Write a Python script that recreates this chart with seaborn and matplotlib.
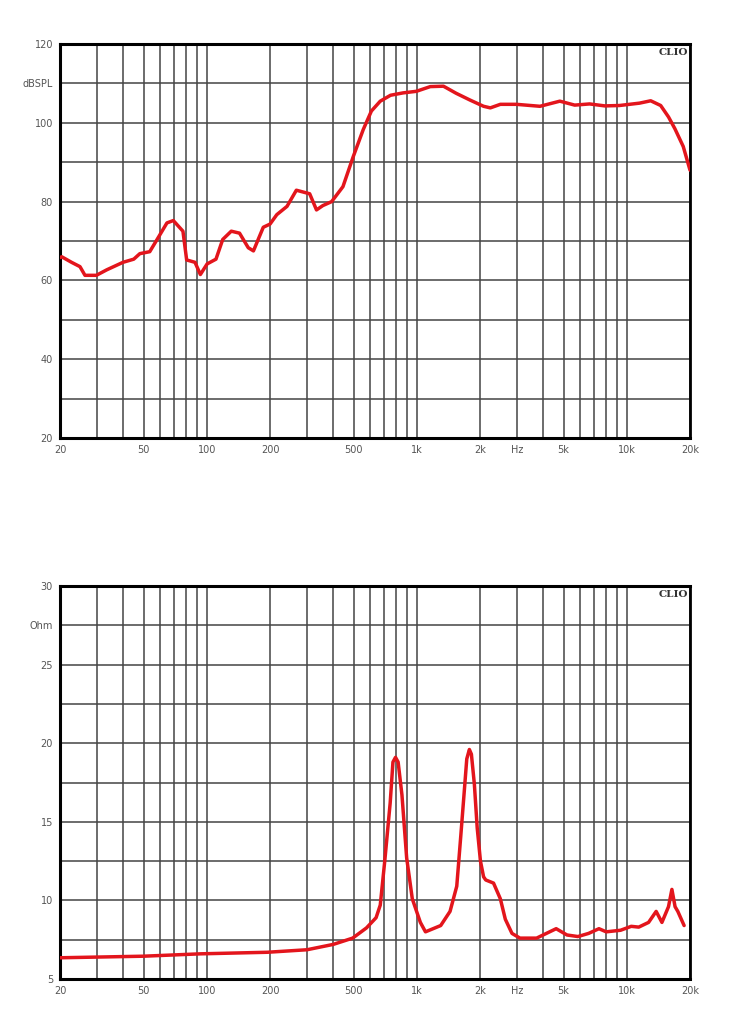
import numpy as np
import pandas as pd
import matplotlib
matplotlib.use("Agg")
import matplotlib.pyplot as plt
import seaborn as sns

# ---------------------------------------------------------------
# Data (frequency in Hz)
# ---------------------------------------------------------------
spl_freq = [20, 20.4, 22.7, 24.9, 26.3, 29.8, 33.4, 39.9, 44.9, 48.0, 53.5,
            58.6, 64.6, 69.3, 77.0, 80.2, 87.9, 93.2, 100.4, 110.6, 119.1,
            130.8, 143.2, 157.6, 166.8, 175.7, 185.8, 200, 215.5, 241, 267,
            309, 333, 357, 393, 445, 498, 556, 608, 670, 750, 860, 995,
            1160, 1340, 1540, 1790, 2080, 2240, 2500, 2980, 3860, 4800,
            5650, 6650, 7860, 9230, 11500, 13000, 14500, 15800, 16950,
            18570, 20000]
spl_db = [65.8, 66.0, 64.6, 63.5, 61.3, 61.3, 62.7, 64.6, 65.4, 66.8, 67.3,
          70.8, 74.6, 75.2, 72.5, 65.2, 64.6, 61.5, 64.2, 65.4, 70.4,
          72.5, 72.0, 68.3, 67.5, 70.4, 73.5, 74.3, 76.7, 78.8, 82.9,
          82.0, 77.9, 79.0, 80.0, 83.8, 91.4, 98.3, 103.0, 105.5, 107.0,
          107.6, 108.0, 109.2, 109.3, 107.5, 105.8, 104.2, 103.8, 104.7,
          104.7, 104.2, 105.5, 104.5, 104.8, 104.3, 104.4, 105.0, 105.6,
          104.4, 101.5, 98.5, 94.0, 88.0]

imp_freq = [20, 50, 93, 194, 300, 400, 495, 576, 640, 670, 705, 747, 770,
            792, 815, 850, 895, 952, 1040, 1100, 1300, 1440, 1550, 1620,
            1680, 1730, 1780, 1820, 1880, 1940, 2010, 2080, 2130, 2320,
            2500, 2640, 2840, 3100, 3720, 4610, 5190, 5850, 6580, 7370,
            7980, 9340, 10500, 11400, 12700, 13800, 14700, 15800, 16400,
            16980, 17500, 18750]
imp_ohm = [6.35, 6.45, 6.6, 6.7, 6.86, 7.2, 7.6, 8.25, 8.9, 9.7, 12.6, 16.2,
           18.8, 19.1, 18.8, 16.7, 12.7, 10.1, 8.6, 8.0, 8.4, 9.3, 10.9,
           14.1, 16.8, 19.0, 19.6, 19.3, 17.4, 14.6, 12.5, 11.5, 11.3,
           11.1, 10.1, 8.8, 7.9, 7.6, 7.6, 8.2, 7.8, 7.7, 7.9, 8.2, 8.0,
           8.1, 8.35, 8.3, 8.6, 9.3, 8.6, 9.6, 10.7, 9.6, 9.3, 8.4]

x_ticks = [20, 50, 100, 200, 500, 1000, 2000, 3000, 5000, 10000, 20000]
x_labels = ["20", "50", "100", "200", "500", "1k", "2k", "Hz", "5k", "10k", "20k"]

spl_ticks = [20, 40, 60, 80, 100, 110, 120]
spl_labels = ["20", "40", "60", "80", "100", "dBSPL", "120"]

imp_ticks = [5, 10, 15, 20, 25, 27.5, 30]
imp_labels = ["5", "10", "15", "20", "25", "Ohm", "30"]

RED = "#e3151c"
GRID = "#444444"


def style_axes(ax, ylim, ystep, yticks, ylabels):
    ax.set_xscale("log")
    ax.set_xlim(20, 20000)
    ax.set_ylim(*ylim)

    # vertical grid 20..90, 100..900, 1k..9k, 10k, 20k
    vgrid = [m * d for d in (10, 100, 1000) for m in range(1, 10) if m * d >= 20]
    vgrid += [10000, 20000]
    for v in vgrid:
        ax.axvline(v, color=GRID, lw=1.1, zorder=1)
    for h in np.arange(ylim[0], ylim[1] + 0.01, ystep):
        ax.axhline(h, color=GRID, lw=1.1, zorder=1)

    ax.set_xticks(x_ticks)
    ax.set_xticklabels(x_labels)
    ax.minorticks_off()
    ax.set_yticks(yticks)
    ax.set_yticklabels(ylabels)
    ax.tick_params(length=0, labelsize=7, labelcolor="#555555", pad=5)
    ax.set_xlabel("")
    ax.set_ylabel("")

    for side in ("left", "bottom", "top"):
        ax.spines[side].set_visible(True)
        ax.spines[side].set_color("black")
        ax.spines[side].set_linewidth(2.2)
    ax.spines["right"].set_visible(True)
    ax.spines["right"].set_color("black")
    ax.spines["right"].set_linewidth(2.0)
    ax.spines["right"].set_linestyle((0, (1, 1)))

    ax.text(0.997, 0.99, "CLIO", transform=ax.transAxes, ha="right", va="top",
            fontsize=7.5, fontweight="bold", family="DejaVu Serif", color="#333333",
            zorder=5)


sns.set_style("white")
plt.rcParams["font.family"] = ["DejaVu Sans"]

fig = plt.figure(figsize=(7.5, 10.29), dpi=100)
ax1 = fig.add_axes([0.08, 0.5743, 0.84, 0.3829])
ax2 = fig.add_axes([0.08, 0.0486, 0.84, 0.3819])

spl = pd.DataFrame({"freq": spl_freq, "db": spl_db})
imp = pd.DataFrame({"freq": imp_freq, "ohm": imp_ohm})

sns.lineplot(data=spl, x="freq", y="db", ax=ax1, color=RED, lw=2.5,
             sort=False, estimator=None, zorder=3)
style_axes(ax1, (20, 120), 10, spl_ticks, spl_labels)

sns.lineplot(data=imp, x="freq", y="ohm", ax=ax2, color=RED, lw=2.5,
             sort=False, estimator=None, zorder=3)
style_axes(ax2, (5, 30), 2.5, imp_ticks, imp_labels)

fig.savefig("out.png", dpi=100, facecolor="white")
